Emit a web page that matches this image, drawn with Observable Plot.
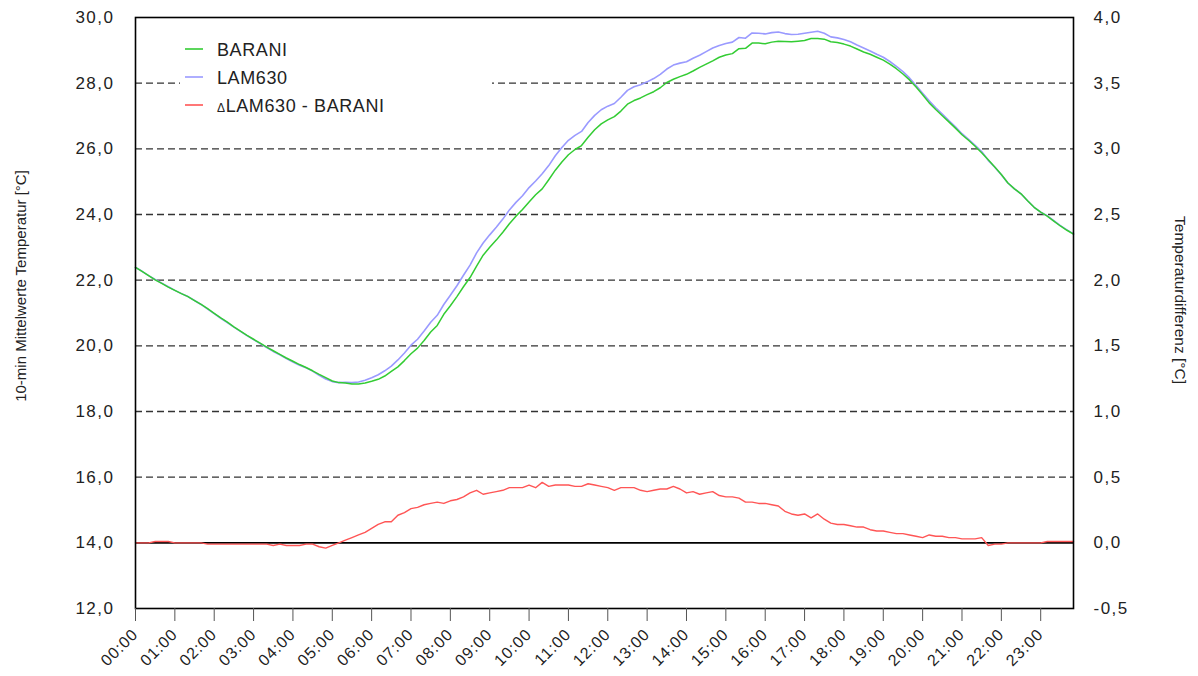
<!DOCTYPE html>
<html><head><meta charset="utf-8">
<script src="https://cdn.jsdelivr.net/npm/d3@7"></script>
<script src="https://cdn.jsdelivr.net/npm/@observablehq/plot@0.6"></script>
<style>
html,body{margin:0;padding:0;background:#fff;}
#chart{position:relative;width:1198px;height:676px;}
#chart svg{font-family:"Liberation Sans",Arial,sans-serif;}
</style></head><body><div id="chart"></div>
<script>
// 10-minute time steps (minutes after midnight)
const minutes = d3.range(0, 1440, 10);

// BARANI 10-min mean temperature [°C]
const BARANI = [
22.39,22.27,22.14,22.01,21.90,21.79,21.69,21.59,21.50,21.38,21.26,21.13,
20.99,20.85,20.72,20.58,20.45,20.32,20.20,20.08,19.96,19.85,19.74,19.63,
19.53,19.43,19.34,19.24,19.13,19.03,18.93,18.88,18.87,18.84,18.84,18.87,
18.92,18.98,19.08,19.22,19.36,19.55,19.76,19.93,20.16,20.42,20.62,20.96,
21.22,21.50,21.80,22.08,22.43,22.76,23.00,23.22,23.46,23.72,23.95,24.15,
24.38,24.60,24.78,25.06,25.35,25.60,25.82,25.98,26.10,26.35,26.58,26.76,
26.88,26.98,27.15,27.36,27.47,27.55,27.65,27.74,27.86,28.02,28.12,28.20,
28.27,28.37,28.48,28.58,28.68,28.79,28.86,28.90,29.05,29.06,29.22,29.22,
29.20,29.25,29.28,29.27,29.26,29.28,29.30,29.36,29.36,29.34,29.26,29.24,
29.19,29.13,29.04,28.95,28.88,28.79,28.70,28.58,28.44,28.28,28.10,27.88,
27.65,27.40,27.20,27.01,26.82,26.63,26.43,26.26,26.08,25.88,25.67,25.45,
25.22,24.96,24.78,24.63,24.42,24.22,24.07,23.95,23.80,23.65,23.52,23.40];

// LAM630 10-min mean temperature [°C]
const LAM630 = [
22.39,22.27,22.14,22.02,21.91,21.80,21.69,21.59,21.50,21.38,21.26,21.12,
20.98,20.84,20.71,20.57,20.44,20.31,20.19,20.07,19.95,19.83,19.73,19.61,
19.51,19.41,19.33,19.23,19.10,18.99,18.91,18.88,18.89,18.88,18.90,18.95,
19.03,19.12,19.24,19.38,19.57,19.78,20.02,20.20,20.45,20.72,20.93,21.26,
21.54,21.83,22.15,22.46,22.83,23.13,23.38,23.61,23.86,24.14,24.37,24.57,
24.82,25.02,25.24,25.49,25.79,26.04,26.26,26.41,26.53,26.80,27.02,27.19,
27.30,27.38,27.57,27.78,27.89,27.95,28.04,28.14,28.27,28.43,28.55,28.61,
28.65,28.76,28.85,28.96,29.07,29.15,29.21,29.25,29.39,29.37,29.53,29.52,
29.50,29.54,29.56,29.51,29.48,29.49,29.52,29.55,29.58,29.52,29.41,29.38,
29.33,29.26,29.16,29.07,28.98,28.88,28.79,28.66,28.51,28.35,28.16,27.93,
27.69,27.46,27.25,27.06,26.86,26.67,26.46,26.29,26.11,25.92,25.65,25.44,
25.21,24.96,24.78,24.63,24.42,24.22,24.07,23.96,23.81,23.66,23.53,23.41];

// Difference LAM630 - BARANI [°C] (right axis)
const DIFF = [
0.00,0.00,0.00,0.01,0.01,0.01,0.00,0.00,0.00,0.00,0.00,-0.01,
-0.01,-0.01,-0.01,-0.01,-0.01,-0.01,-0.01,-0.01,-0.01,-0.02,-0.01,-0.02,
-0.02,-0.02,-0.01,-0.01,-0.03,-0.04,-0.02,0.00,0.02,0.04,0.06,0.08,
0.11,0.14,0.16,0.16,0.21,0.23,0.26,0.27,0.29,0.30,0.31,0.30,
0.32,0.33,0.35,0.38,0.40,0.37,0.38,0.39,0.40,0.42,0.42,0.42,
0.44,0.42,0.46,0.43,0.44,0.44,0.44,0.43,0.43,0.45,0.44,0.43,
0.42,0.40,0.42,0.42,0.42,0.40,0.39,0.40,0.41,0.41,0.43,0.41,
0.38,0.39,0.37,0.38,0.39,0.36,0.35,0.35,0.34,0.31,0.31,0.30,
0.30,0.29,0.28,0.24,0.22,0.21,0.22,0.19,0.22,0.18,0.15,0.14,
0.14,0.13,0.12,0.12,0.10,0.09,0.09,0.08,0.07,0.07,0.06,0.05,
0.04,0.06,0.05,0.05,0.04,0.04,0.03,0.03,0.03,0.04,-0.02,-0.01,
-0.01,0.00,0.00,0.00,0.00,0.00,0.00,0.01,0.01,0.01,0.01,0.01];

const hourMinutes = d3.range(0, 1440, 60);
const hourLabels = ["00:00","01:00","02:00","03:00","04:00","05:00","06:00","07:00","08:00","09:00","10:00","11:00",
  "12:00","13:00","14:00","15:00","16:00","17:00","18:00","19:00","20:00","21:00","22:00","23:00"];
const tempTicks = [12,14,16,18,20,22,24,26,28,30];
const leftTickLabels = ["12,0","14,0","16,0","18,0","20,0","22,0","24,0","26,0","28,0","30,0"];
const rightTickLabels = ["-0,5","0,0","0,5","1,0","1,5","2,0","2,5","3,0","3,5","4,0"];
const gridTemps = [16,18,20,22,24,26,28];
const seriesNames = ["BARANI","LAM630","LAM630 - BARANI"];
const seriesColors = ["#33cc33","#9a9aff","#ff5555"];

// right axis: 0,0 °C difference sits on 14 °C, 4,0 on 30 °C
const toLeft = d => 14 + 4 * d;

const rows = minutes.map((m, i) => ({m, barani: BARANI[i], lam: LAM630[i], diff: DIFF[i]}));

const chart = Plot.plot({
  width: 1198, height: 676,
  marginLeft: 135, marginRight: 125, marginTop: 17, marginBottom: 68,
  style: {fontFamily: "'Liberation Sans', Arial, sans-serif", background: "white", color: "#222"},
  x: {domain: [0, 1430]},
  y: {domain: [12, 30]},
  marks: [
    Plot.ruleY(gridTemps, {stroke: "#333", strokeWidth: 1.3, strokeDasharray: "7,4"}),
    Plot.ruleY([0], {y: toLeft, stroke: "black", strokeWidth: 1.6}),
    Plot.line(rows, {x: "m", y: d => toLeft(d.diff), stroke: seriesColors[2], strokeWidth: 1.4}),
    Plot.line(rows, {x: "m", y: "lam", stroke: seriesColors[1], strokeWidth: 1.6}),
    Plot.line(rows, {x: "m", y: "barani", stroke: seriesColors[0], strokeWidth: 1.5}),
    Plot.frame({stroke: "black", strokeWidth: 1.6}),
    Plot.axisY(tempTicks, {anchor: "left", tickSize: 0, tickPadding: 21, fontSize: 17, label: null,
      tickFormat: d => leftTickLabels[tempTicks.indexOf(d)]}),
    Plot.axisY(tempTicks, {anchor: "right", tickSize: 0, tickPadding: 20, fontSize: 17, label: null,
      tickFormat: d => rightTickLabels[tempTicks.indexOf(d)]}),
    Plot.axisX(hourMinutes, {anchor: "bottom", tickSize: 13, tickPadding: 10, tickRotate: -45, fontSize: 16, label: null,
      stroke: "#555", tickFormat: d => hourLabels[hourMinutes.indexOf(d)]})
  ]
});
document.getElementById("chart").appendChild(chart);

const svg = d3.select(chart);
svg.selectAll('g[aria-label="y-axis tick label"] text').attr("letter-spacing", 1.5);
svg.selectAll('g[aria-label="x-axis tick label"] text').attr("letter-spacing", 1);

// axis titles
svg.append("text")
  .attr("transform", "translate(22,286) rotate(-90)")
  .attr("text-anchor", "middle").attr("dominant-baseline", "middle")
  .attr("font-size", 15).attr("fill", "#222")
  .text("10-min Mittelwerte Temperatur [°C]");
svg.append("text")
  .attr("transform", "translate(1179,300) rotate(90)")
  .attr("text-anchor", "middle").attr("dominant-baseline", "middle")
  .attr("font-size", 15.5).attr("fill", "#222")
  .text("Temperaturdifferenz [°C]");

// legend
const lg = svg.append("g");
lg.append("rect").attr("x", 180).attr("y", 33).attr("width", 312).attr("height", 88).attr("fill", "white");
seriesNames.forEach((name, i) => {
  const y = 49 + i * 28;
  lg.append("line").attr("x1", 185).attr("x2", 203).attr("y1", y).attr("y2", y)
    .attr("stroke", seriesColors[i]).attr("stroke-width", 1.6);
  const t = lg.append("text").attr("x", 217).attr("y", y + 6.5).attr("text-anchor", "start")
    .attr("font-size", 18).attr("fill", "#222").attr("letter-spacing", 0.6);
  if (i === 2) t.append("tspan").attr("font-size", 12).text("Δ");
  t.append("tspan").text(name);
});
</script></body></html>
